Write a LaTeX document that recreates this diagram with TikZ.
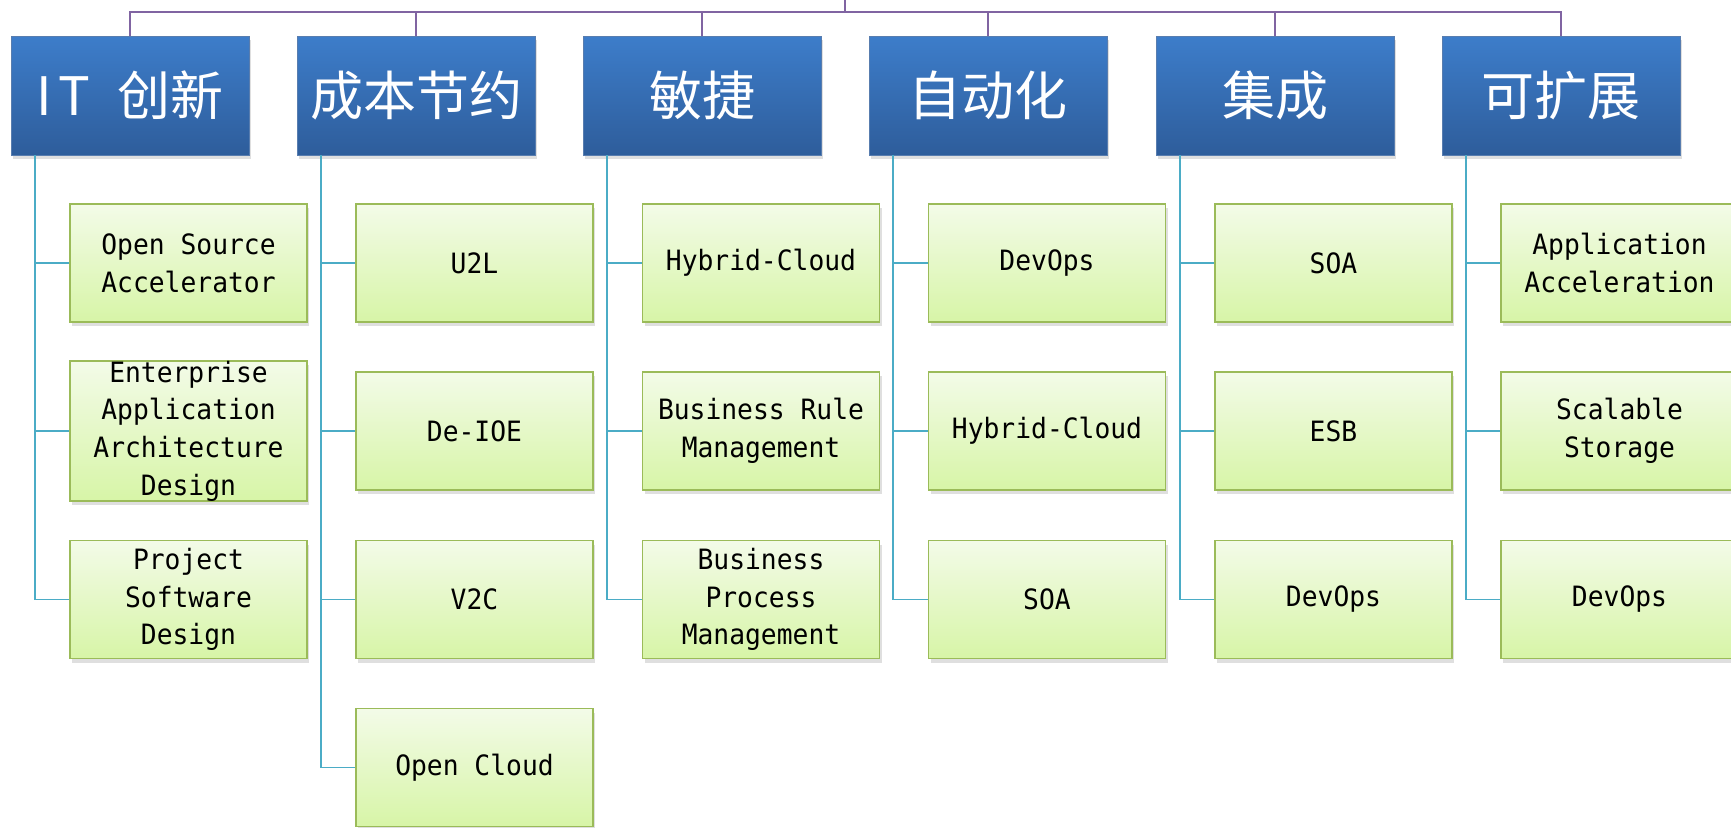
\documentclass[tikz,border=0pt]{standalone}
\usepackage{fontspec}
\usetikzlibrary{shadows}
\newfontfamily\cjkfont{Noto Sans CJK SC}
\newfontfamily\itemfont[FakeStretch=0.94]{DejaVu Sans Mono}
\definecolor{headtop}{HTML}{3D7DCA}
\definecolor{headbot}{HTML}{2E5D9B}
\definecolor{itemtop}{HTML}{F3FBE8}
\definecolor{itembot}{HTML}{D7F5A7}
\definecolor{itemedge}{HTML}{9BBB59}
\definecolor{busline}{HTML}{8064A2}
\definecolor{branchline}{HTML}{4BACC6}
\tikzset{
    headbox/.style={rectangle, minimum width=119pt, minimum height=59.5pt, inner sep=0pt,
        top color=headtop, bottom color=headbot, draw=headbot!80!white, line width=0.4pt,
        text=white, font=\cjkfont\fontsize{26.5}{30}\selectfont,
        drop shadow={shadow xshift=1.2pt, shadow yshift=-2pt, opacity=0.25}},
    itembox/.style={rectangle, minimum width=118.5pt, minimum height=59pt, inner sep=0pt,
        top color=itemtop, bottom color=itembot, draw=itemedge, line width=0.8pt,
        align=center, font=\itemfont\fontsize{14}{18.8}\selectfont,
        drop shadow={shadow xshift=1.2pt, shadow yshift=-2pt, opacity=0.25}},
    busedge/.style={draw=busline, line width=0.9pt},
    branchedge/.style={draw=branchline, line width=0.9pt}
}

\begin{document}
\begin{tikzpicture}[x=0.5pt,y=-0.5pt]
        \useasboundingbox (0,0) rectangle (1731,827);

        \node[headbox] (it) at (130,95.5) {I\kern0.12em T\hspace{0.5em}创新};
        \node[headbox] (cost) at (416,95.5) {成本节约};
        \node[headbox] (agile) at (702,95.5) {敏捷};
        \node[headbox] (auto) at (988,95.5) {自动化};
        \node[headbox] (integ) at (1275,95.5) {集成};
        \node[headbox] (scale) at (1561,95.5) {可扩展};

        \coordinate (top) at (845,0);
        \coordinate (bus) at (845,12);
        \draw[busedge] (top) -- (bus);
        \draw[busedge] (bus) -| (it.north);
        \draw[busedge] (bus) -| (cost.north);
        \draw[busedge] (bus) -| (agile.north);
        \draw[busedge] (bus) -| (auto.north);
        \draw[busedge] (bus) -| (integ.north);
        \draw[busedge] (bus) -| (scale.north);

        \node[itembox] (it1) at (188.5,263) {Open Source\\Accelerator};
        \node[itembox] (it2) at (188.5,431) {Enterprise\\Application\\Architecture\\Design};
        \node[itembox] (it3) at (188.5,599.5) {Project\\Software\\Design};

        \node[itembox] (cost1) at (474.5,263) {U2L};
        \node[itembox] (cost2) at (474.5,431) {De-IOE};
        \node[itembox] (cost3) at (474.5,599.5) {V2C};
        \node[itembox] (cost4) at (474.5,767.5) {Open Cloud};

        \node[itembox] (agile1) at (761,263) {Hybrid-Cloud};
        \node[itembox] (agile2) at (761,431) {Business Rule\\Management};
        \node[itembox] (agile3) at (761,599.5) {Business\\Process\\Management};

        \node[itembox] (auto1) at (1047,263) {DevOps};
        \node[itembox] (auto2) at (1047,431) {Hybrid-Cloud};
        \node[itembox] (auto3) at (1047,599.5) {SOA};

        \node[itembox] (integ1) at (1333.5,263) {SOA};
        \node[itembox] (integ2) at (1333.5,431) {ESB};
        \node[itembox] (integ3) at (1333.5,599.5) {DevOps};

        \node[itembox] (scale1) at (1619.5,263) {Application\\Acceleration};
        \node[itembox] (scale2) at (1619.5,431) {Scalable\\Storage};
        \node[itembox] (scale3) at (1619.5,599.5) {DevOps};

        \draw[branchedge] ([xshift=12pt]it.south west) |- (it1.west);
        \draw[branchedge] ([xshift=12pt]it.south west) |- (it2.west);
        \draw[branchedge] ([xshift=12pt]it.south west) |- (it3.west);
        \draw[branchedge] ([xshift=12pt]cost.south west) |- (cost1.west);
        \draw[branchedge] ([xshift=12pt]cost.south west) |- (cost2.west);
        \draw[branchedge] ([xshift=12pt]cost.south west) |- (cost3.west);
        \draw[branchedge] ([xshift=12pt]cost.south west) |- (cost4.west);
        \draw[branchedge] ([xshift=12pt]agile.south west) |- (agile1.west);
        \draw[branchedge] ([xshift=12pt]agile.south west) |- (agile2.west);
        \draw[branchedge] ([xshift=12pt]agile.south west) |- (agile3.west);
        \draw[branchedge] ([xshift=12pt]auto.south west) |- (auto1.west);
        \draw[branchedge] ([xshift=12pt]auto.south west) |- (auto2.west);
        \draw[branchedge] ([xshift=12pt]auto.south west) |- (auto3.west);
        \draw[branchedge] ([xshift=12pt]integ.south west) |- (integ1.west);
        \draw[branchedge] ([xshift=12pt]integ.south west) |- (integ2.west);
        \draw[branchedge] ([xshift=12pt]integ.south west) |- (integ3.west);
        \draw[branchedge] ([xshift=12pt]scale.south west) |- (scale1.west);
        \draw[branchedge] ([xshift=12pt]scale.south west) |- (scale2.west);
        \draw[branchedge] ([xshift=12pt]scale.south west) |- (scale3.west);
    \end{tikzpicture}
\end{document}
